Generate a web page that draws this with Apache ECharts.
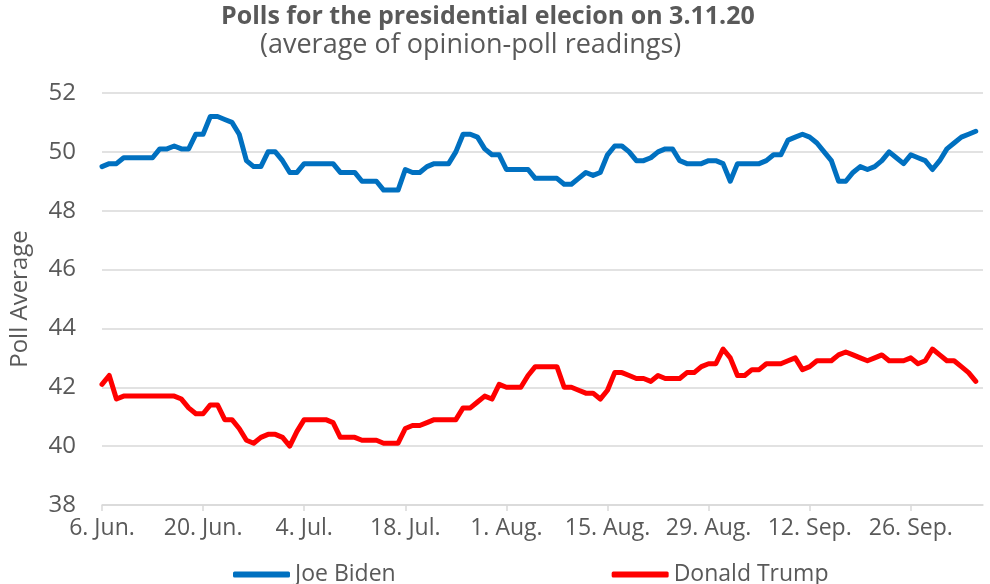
<!DOCTYPE html>
<html>
<head>
<meta charset="utf-8">
<script src="https://cdn.jsdelivr.net/npm/echarts@6/dist/echarts.min.js"></script>
<style>
html,body{margin:0;padding:0;background:#fff;}
#chart{width:990px;height:584px;}
</style>
</head>
<body>
<div id="chart"></div>
<script>
// Daily readings starting 6 June 2020
var startDate = [2020, 5, 6];
var biden = [
49.5,49.6,49.6,49.8,49.8,49.8,49.8,49.8,50.1,50.1,
50.2,50.1,50.1,50.6,50.6,51.2,51.2,51.1,51.0,50.6,
49.7,49.5,49.5,50.0,50.0,49.7,49.3,49.3,49.6,49.6,
49.6,49.6,49.6,49.3,49.3,49.3,49.0,49.0,49.0,48.7,
48.7,48.7,49.4,49.3,49.3,49.5,49.6,49.6,49.6,50.0,
50.6,50.6,50.5,50.1,49.9,49.9,49.4,49.4,49.4,49.4,
49.1,49.1,49.1,49.1,48.9,48.9,49.1,49.3,49.2,49.3,
49.9,50.2,50.2,50.0,49.7,49.7,49.8,50.0,50.1,50.1,
49.7,49.6,49.6,49.6,49.7,49.7,49.6,49.0,49.6,49.6,
49.6,49.6,49.7,49.9,49.9,50.4,50.5,50.6,50.5,50.3,
50.0,49.7,49.0,49.0,49.3,49.5,49.4,49.5,49.7,50.0,
49.8,49.6,49.9,49.8,49.7,49.4,49.7,50.1,50.3,50.5,
50.6,50.7
];
var trump = [
42.1,42.4,41.6,41.7,41.7,41.7,41.7,41.7,41.7,41.7,
41.7,41.6,41.3,41.1,41.1,41.4,41.4,40.9,40.9,40.6,
40.2,40.1,40.3,40.4,40.4,40.3,40.0,40.5,40.9,40.9,
40.9,40.9,40.8,40.3,40.3,40.3,40.2,40.2,40.2,40.1,
40.1,40.1,40.6,40.7,40.7,40.8,40.9,40.9,40.9,40.9,
41.3,41.3,41.5,41.7,41.6,42.1,42.0,42.0,42.0,42.4,
42.7,42.7,42.7,42.7,42.0,42.0,41.9,41.8,41.8,41.6,
41.9,42.5,42.5,42.4,42.3,42.3,42.2,42.4,42.3,42.3,
42.3,42.5,42.5,42.7,42.8,42.8,43.3,43.0,42.4,42.4,
42.6,42.6,42.8,42.8,42.8,42.9,43.0,42.6,42.7,42.9,
42.9,42.9,43.1,43.2,43.1,43.0,42.9,43.0,43.1,42.9,
42.9,42.9,43.0,42.8,42.9,43.3,43.1,42.9,42.9,42.7,
42.5,42.2
];
var tickLabels = ['6. Jun.','20. Jun.','4. Jul.','18. Jul.','1. Aug.','15. Aug.','29. Aug.','12. Sep.','26. Sep.'];
var seriesNames = ['Joe Biden','Donald Trump'];
var colors = ['#0070C0','#FF0000'];
var dayCount = 123; // axis runs 6 Jun .. 6 Oct

var categories = [];
for (var i = 0; i < dayCount; i++) {
  var d = new Date(startDate[0], startDate[1], startDate[2] + i);
  categories.push(d.getFullYear() + '-' + (d.getMonth()+1) + '-' + d.getDate());
}

var FONT = '"Open Sans", "Noto Sans", sans-serif';
var TXT = '#595959';

var chart = echarts.init(document.getElementById('chart'), null, {renderer:'canvas'});
chart.setOption({
  animation: false,
  backgroundColor: '#ffffff',
  title: [{
    text: 'Polls for the presidential elecion on 3.11.20',
    left: 216, top: -1,
    textStyle: {fontFamily: FONT, fontWeight: 'bold', fontSize: 25, color: TXT}
  },{
    text: '(average of opinion-poll readings)',
    left: 255, top: 27,
    textStyle: {fontFamily: FONT, fontWeight: 'normal', fontSize: 27, color: TXT}
  }],
  legend: {
    left: 228, top: 558,
    itemWidth: 57, itemHeight: 6, itemGap: 216,
    icon: 'roundRect',
    textStyle: {fontFamily: FONT, fontSize: 23, color: TXT},
    data: seriesNames
  },
  grid: {left: 93, right: 7, top: 93, bottom: 79, containLabel: false},
  xAxis: {
    type: 'category',
    data: categories,
    boundaryGap: false,
    axisLine: {lineStyle: {color: '#d9d9d9', width: 1.5}},
    axisTick: {show: true, interval: 13, length: 6, lineStyle: {color: '#d9d9d9', width: 1.5}},
    axisLabel: {
      interval: 13, margin: 12,
      fontFamily: FONT, fontSize: 23, color: TXT,
      formatter: function (v, idx) { return tickLabels[Math.round(idx / 14)] || ''; }
    },
    splitLine: {show: false}
  },
  yAxis: {
    type: 'value', min: 38, max: 52, interval: 2,
    name: 'Poll Average', nameLocation: 'middle', nameGap: 70, nameRotate: 90,
    nameTextStyle: {fontFamily: FONT, fontSize: 24, color: TXT},
    axisLine: {show: false}, axisTick: {show: false},
    axisLabel: {margin: 26, fontFamily: FONT, fontSize: 24, color: TXT},
    splitLine: {lineStyle: {color: '#d9d9d9', width: 1.5}}
  },
  series: [{
    name: seriesNames[0], type: 'line', data: biden,
    showSymbol: false, symbol: 'none',
    lineStyle: {color: colors[0], width: 5, cap: 'round', join: 'round'},
    itemStyle: {color: colors[0]}
  },{
    name: seriesNames[1], type: 'line', data: trump,
    showSymbol: false, symbol: 'none',
    lineStyle: {color: colors[1], width: 5, cap: 'round', join: 'round'},
    itemStyle: {color: colors[1]}
  }]
});
</script>
</body>
</html>
